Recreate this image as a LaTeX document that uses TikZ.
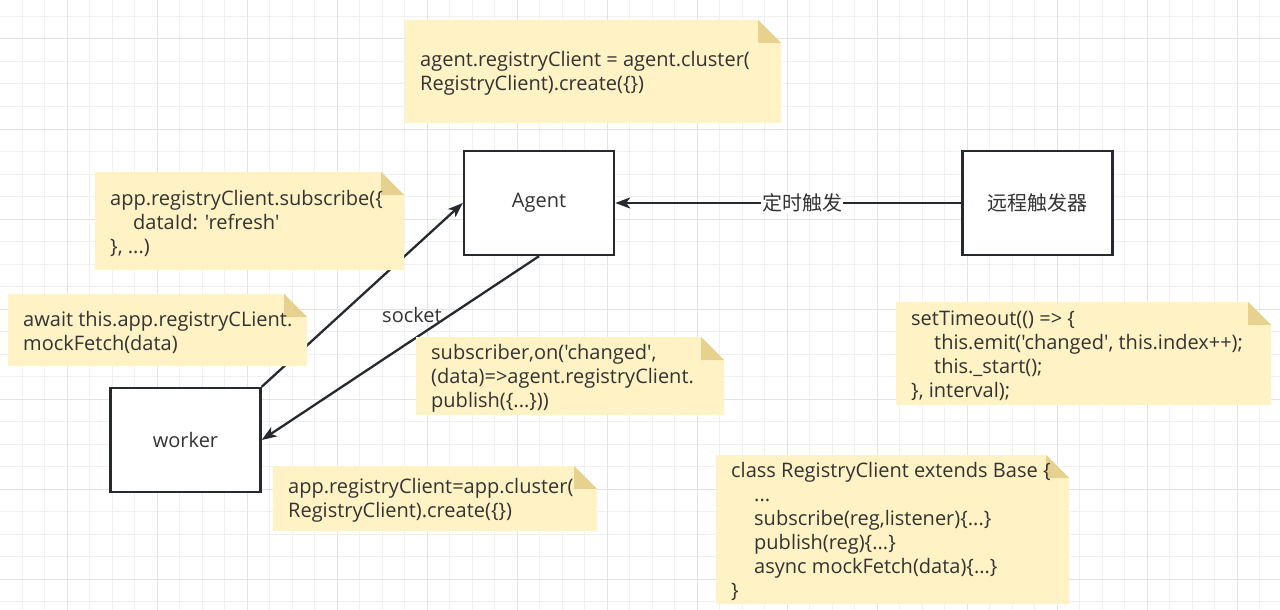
\documentclass[tikz,border=0pt]{standalone}
\usepackage{fontspec}
\usetikzlibrary{arrows.meta}
\newfontfamily\uifont{Open Sans}
\newfontfamily\cjkfont{Noto Sans CJK SC}
\definecolor{gridminor}{HTML}{F0F0F0}
\definecolor{gridmajor}{HTML}{E3E3E3}
\definecolor{notefill}{HTML}{FFF2C4}
\definecolor{foldfill}{HTML}{E6D28E}
\definecolor{txt}{HTML}{333333}
\definecolor{stroke}{HTML}{262A2E}
\newcommand\ind{\hspace*{23pt}}
\newcommand\notenode[6]{%
  \fill[notefill] (#2,#3) -- (#4-23,#3) -- (#4,#3+23) -- (#4,#5) -- (#2,#5) -- cycle;
  \fill[foldfill] (#4-23,#3) -- (#4-23,#3+23) -- (#4,#3+23) -- cycle;
  \node[notetext, anchor=west] (#1) at (#2+15,{(#3+#5)/2+2}) {#6};}
\begin{document}
\begin{tikzpicture}[x=1pt,y=-1pt,
  uitext/.style={font=\uifont\fontsize{20}{24}\selectfont, text=txt},
  cjktext/.style={font=\cjkfont\fontsize{20}{24}\selectfont, text=txt},
  box/.style={draw=stroke, line width=2.4pt, fill=white, minimum width=150pt, minimum height=104pt, inner sep=0pt},
  arr/.style={draw=stroke, line width=2.3pt, -{Stealth[length=15pt,width=11pt,inset=4pt]}},
  notetext/.style={uitext, align=left, inner sep=0pt},
  gridline/.style={line width=1pt}]
\useasboundingbox (0,0) rectangle (1280,610);
\fill[white] (0,0) rectangle (1280,610);
% grid
\foreach \i in {1,...,56} {\draw[gridline, gridminor] ({-0.5+22.5*\i},0) -- ({-0.5+22.5*\i},610);}
\foreach \j in {1,...,27} {\draw[gridline, gridminor] (0,{-6+22.5*\j}) -- (1280,{-6+22.5*\j});}
\foreach \i in {0,...,13} {\draw[gridline, gridmajor] ({67+90*\i},0) -- ({67+90*\i},610);}
\foreach \j in {0,...,6} {\draw[gridline, gridmajor] (0,{39+90*\j}) -- (1280,{39+90*\j});}
% boxes
\node[box, uitext] (agent) at (539,203) {Agent};
\node[box, cjktext] (trig) at (1037.5,203) {远程触发器};
\node[box, uitext] (worker) at (185.5,440) {worker};
% connectors
\draw[arr] (trig.west) -- node[pos=0.46, cjktext, fill=white, inner sep=1pt] (timer) {定时触发} (agent.east);
\draw[arr] (worker.north east) -- (agent.west);
\draw[arr] (agent.south) -- (worker.east);
\node[uitext] (socket) at (412,315) {socket};
% notes
\notenode{n1}{405}{20}{781}{123}{agent.registryClient = agent.cluster(\\RegistryClient).create(\{\})}
\notenode{n2}{95}{172}{404}{270}{app.registryClient.subscribe(\{\\\ind dataId: 'refresh'\\\}, ...)}
\notenode{n3}{8}{294}{307}{366}{await this.app.registryCLient.\\mockFetch(data)}
\notenode{n4}{416}{337}{724}{415}{subscriber,on('changed',\\(data)=>agent.registryClient.\\publish(\{...\}))}
\notenode{n5}{896}{302}{1271}{405}{setTimeout(() => \{\\\ind this.emit('changed', this.index++);\\\ind this.\_start();\\\}, interval);}
\notenode{n6}{716}{455}{1069}{604}{class RegistryClient extends Base \{\\\ind ...\\\ind subscribe(reg,listener)\{...\}\\\ind publish(reg)\{...\}\\\ind async mockFetch(data)\{...\}\\\}}
\notenode{n7}{273}{466}{597}{531}{app.registryClient=app.cluster(\\RegistryClient).create(\{\})}
\end{tikzpicture}
\end{document}
